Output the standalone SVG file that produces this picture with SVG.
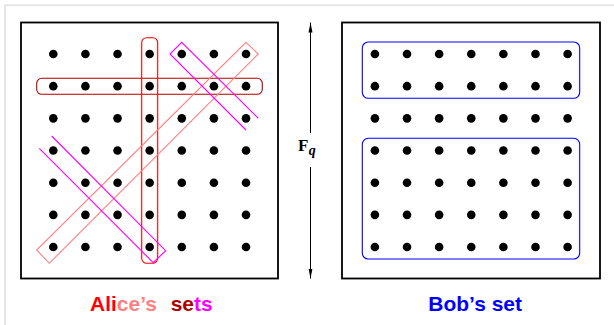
<svg xmlns="http://www.w3.org/2000/svg" xmlns:xlink="http://www.w3.org/1999/xlink" width="614" height="325" viewBox="0 0 614 325">
  <style>
    .frame { fill: none; stroke: #e6e6e6; stroke-width: 2; }
    .box { fill: none; stroke: #000; stroke-width: 1.8; }
    .dot { fill: #000; }
    .set { fill: none; stroke-width: 1.1; }
    .lbl { font-family: "Liberation Sans", Arial, sans-serif; font-weight: bold; font-size: 21px; }
    .axis { stroke: #000; stroke-width: 1; fill: none; }
  </style>
  <defs>
    <g id="row">
      <circle class="dot" cx="0" cy="0" r="4.3"/>
      <circle class="dot" cx="32.12" cy="0" r="4.3"/>
      <circle class="dot" cx="64.24" cy="0" r="4.3"/>
      <circle class="dot" cx="96.36" cy="0" r="4.3"/>
      <circle class="dot" cx="128.48" cy="0" r="4.3"/>
      <circle class="dot" cx="160.6" cy="0" r="4.3"/>
      <circle class="dot" cx="192.72" cy="0" r="4.3"/>
    </g>
    <g id="grid">
      <use xlink:href="#row" href="#row" y="0"/>
      <use xlink:href="#row" href="#row" y="32.17"/>
      <use xlink:href="#row" href="#row" y="64.34"/>
      <use xlink:href="#row" href="#row" y="96.51"/>
      <use xlink:href="#row" href="#row" y="128.68"/>
      <use xlink:href="#row" href="#row" y="160.85"/>
      <use xlink:href="#row" href="#row" y="193.02"/>
    </g>
    <marker id="arr" markerUnits="userSpaceOnUse" markerWidth="10" markerHeight="5" refX="10" refY="2.5" orient="auto">
      <path d="M0,0.5 L10,2.5 L0,4.5 z" fill="#000"/>
    </marker>
  </defs>

  <rect width="614" height="325" fill="#fff"/>
  <path class="frame" d="M5,325 V5.3 H614"/>

  <g id="alice">
    <rect class="box" x="21" y="22.5" width="257" height="256"/>
    <use xlink:href="#grid" href="#grid" x="53.3" y="54"/>
    <rect class="set" stroke="#b00000" x="36.7" y="78.3" width="225.6" height="16" rx="5"/>
    <rect class="set" stroke="#ff0000" x="141.7" y="37.7" width="16" height="225.6" rx="5"/>
    <polygon class="set" stroke="#ff8080" points="246,42.3 258.3,54 49.3,263.3 36.7,250"/>
    <polyline class="set" stroke="#ff00ff" points="258.3,118.3 181.7,42.3 170,54 246,130"/>
    <polyline class="set" stroke="#ff00ff" points="51.7,136 165.7,250.7 153.3,262.7 39.3,148.3"/>
  </g>

  <g id="bob">
    <rect class="box" x="342" y="22.5" width="258" height="256"/>
    <use xlink:href="#grid" href="#grid" x="374.9" y="54"/>
    <rect class="set" stroke="#0000ff" x="362.3" y="42" width="217.4" height="56.3" rx="6"/>
    <rect class="set" stroke="#0000ff" x="362.3" y="138.3" width="217.4" height="120.7" rx="6"/>
  </g>

  <g id="connectors">
    <line class="axis" x1="310.5" y1="133" x2="310.5" y2="22.5" marker-end="url(#arr)"/>
    <line class="axis" x1="310.5" y1="167" x2="310.5" y2="278.5" marker-end="url(#arr)"/>
  </g>

  <g id="fq-label">
    <text x="298" y="151" font-family="'Liberation Serif', 'Times New Roman', serif" font-weight="bold" font-size="17">F</text>
    <text x="308.8" y="155" font-family="'Liberation Serif', 'Times New Roman', serif" font-weight="bold" font-style="italic" font-size="14">q</text>
  </g>

  <g id="alice-label">
    <text class="lbl" x="90" y="310.5"><tspan fill="#ff0000">Ali</tspan><tspan fill="#ff8080">ce’s</tspan></text>
    <text class="lbl" x="170.7" y="310.5"><tspan fill="#b00000">se</tspan><tspan fill="#ff00ff">ts</tspan></text>
  </g>

  <g id="bob-label">
    <text class="lbl" x="428.3" y="310.5" fill="#0000ff">Bob’s set</text>
  </g>
</svg>
